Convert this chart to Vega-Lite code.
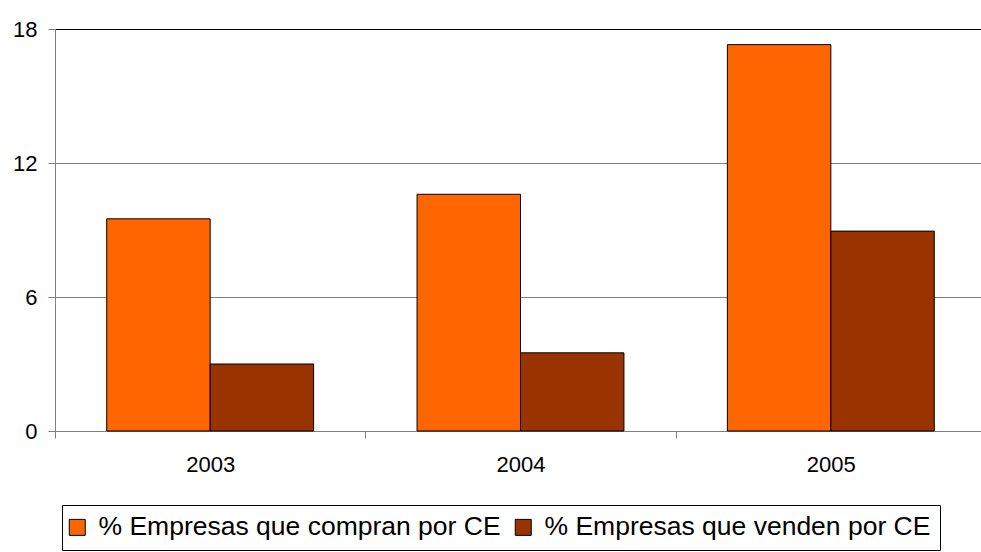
{
  "$schema": "https://vega.github.io/schema/vega-lite/v6.json",
  "autosize": "none",
  "width": 931,
  "height": 402,
  "padding": {"left": 55, "top": 29, "right": -5, "bottom": 121},
  "background": "white",
  "data": {
    "values": [
      {"year": "2003", "serie": "% Empresas que compran por CE", "valor": 9.5},
      {"year": "2003", "serie": "% Empresas que venden por CE", "valor": 3.0},
      {"year": "2004", "serie": "% Empresas que compran por CE", "valor": 10.6},
      {"year": "2004", "serie": "% Empresas que venden por CE", "valor": 3.5},
      {"year": "2005", "serie": "% Empresas que compran por CE", "valor": 17.3},
      {"year": "2005", "serie": "% Empresas que venden por CE", "valor": 8.95}
    ]
  },
  "mark": {"type": "bar", "stroke": "black", "strokeWidth": 1},
  "encoding": {
    "x": {
      "field": "year",
      "type": "nominal",
      "scale": {"paddingInner": 0, "paddingOuter": 0},
      "axis": {
        "title": null,
        "labelAngle": 0,
        "tickBand": "extent",
        "labelFontSize": 22,
        "labelPadding": 16,
        "labelColor": "black",
        "domainColor": "#808080",
        "tickColor": "#808080",
        "tickSize": 7
      }
    },
    "xOffset": {
      "field": "serie",
      "sort": ["% Empresas que compran por CE", "% Empresas que venden por CE"],
      "scale": {"paddingInner": 0, "paddingOuter": 0.5}
    },
    "y": {
      "field": "valor",
      "type": "quantitative",
      "scale": {"domain": [0, 18], "nice": false},
      "axis": {
        "title": null,
        "values": [0, 6, 12, 18],
        "labelFontSize": 22,
        "labelPadding": 11,
        "labelColor": "black",
        "domainColor": "#808080",
        "tickColor": "#808080",
        "tickSize": 7,
        "gridColor": {"condition": {"test": "datum.value === 18", "value": "black"}, "value": "#808080"},
        "gridOpacity": 1
      }
    },
    "color": {
      "field": "serie",
      "type": "nominal",
      "scale": {
        "domain": ["% Empresas que compran por CE", "% Empresas que venden por CE"],
        "range": ["#FF6600", "#993300"]
      },
      "legend": {
        "orient": "none",
        "legendX": 7,
        "legendY": 476,
        "direction": "horizontal",
        "title": null,
        "labelFontSize": 26.5,
        "labelColor": "black",
        "labelOffset": 8,
        "columnPadding": 12,
        "symbolType": "square",
        "symbolSize": 256,
        "symbolOffset": -7,
        "symbolStrokeColor": "black",
        "symbolStrokeWidth": 1,
        "symbolOpacity": 1,
        "strokeColor": "black",
        "fillColor": "white",
        "padding": 9,
        "labelLimit": 500
      }
    }
  },
  "config": {
    "font": "Liberation Sans",
    "view": {"stroke": null},
    "axis": {"grid": false},
    "axisY": {"grid": true}
  }
}
